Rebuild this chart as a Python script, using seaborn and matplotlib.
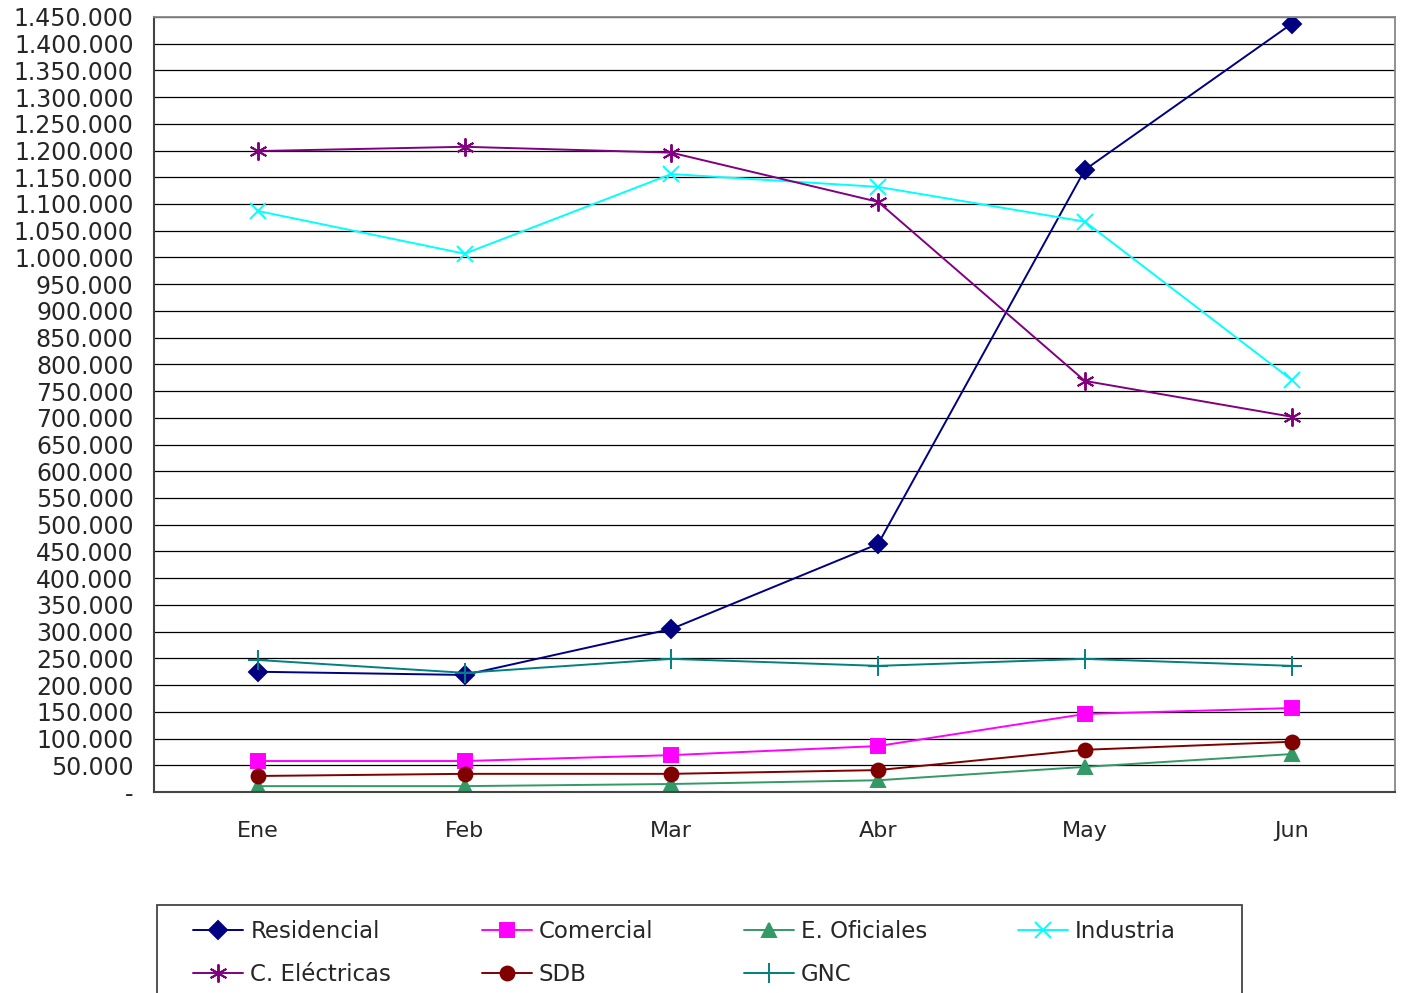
import seaborn as sns
import matplotlib.pyplot as plt
import pandas as pd
from matplotlib.patches import Rectangle
from matplotlib.ticker import FuncFormatter, FixedLocator, MultipleLocator

sns.set_style('white')
plt.rcParams['font.family'] = ['DejaVu Sans']

meses = ['Ene', 'Feb', 'Mar', 'Abr', 'May', 'Jun']

residencial = [225000, 219000, 305000, 464000, 1164000, 1437000]
comercial = [58000, 58000, 69000, 86000, 146000, 157000]
e_oficiales = [11000, 11000, 15000, 22000, 47000, 71000]
industria = [1087000, 1007000, 1156000, 1132000, 1067000, 771000]
c_electricas = [1199000, 1207000, 1196000, 1104000, 769000, 702000]
sdb = [30000, 34000, 34000, 41000, 79000, 94000]
gnc = [247000, 223000, 249000, 236000, 249000, 236000]

series = {
    'Residencial': residencial,
    'Comercial': comercial,
    'E. Oficiales': e_oficiales,
    'Industria': industria,
    'C. Eléctricas': c_electricas,
    'SDB': sdb,
    'GNC': gnc,
}
colores = {
    'Residencial': '#000080',
    'Comercial': '#FF00FF',
    'E. Oficiales': '#339966',
    'Industria': '#00FFFF',
    'C. Eléctricas': '#800080',
    'SDB': '#800000',
    'GNC': '#008080',
}
marcadores = {
    'Residencial': 'D',
    'Comercial': 's',
    'E. Oficiales': '^',
    'Industria': 'x',
    'C. Eléctricas': (6, 2, 0),
    'SDB': 'o',
    'GNC': '+',
}
tamanos = {'Residencial': 9, 'Comercial': 10, 'E. Oficiales': 10, 'Industria': 12,
           'C. Eléctricas': 13, 'SDB': 10, 'GNC': 14}

fig = plt.figure(figsize=(14.04, 9.93), dpi=100)
ax = fig.add_axes([0.110, 0.2024, 0.8836, 0.7806])

handles = {}
for nombre, vals in series.items():
    d = pd.DataFrame({'mes': meses, 'valor': vals})
    sns.lineplot(data=d, x='mes', y='valor', color=colores[nombre], sort=False,
                 marker=marcadores[nombre], markersize=tamanos[nombre],
                 markeredgecolor=colores[nombre], markeredgewidth=1.4,
                 linewidth=1.4, label=nombre, ax=ax, legend=False)
    handles[nombre] = ax.lines[-1]

ax.set_xlim(-0.5, 5.5)
ax.set_ylim(0, 1450000)
ax.yaxis.set_major_locator(MultipleLocator(50000))
ax.yaxis.set_major_formatter(FuncFormatter(
    lambda v, p: '-' if v == 0 else f'{int(v):,}'.replace(',', '.')))
ax.grid(axis='y', color='black', linewidth=0.9)
ax.set_axisbelow(True)

ax.xaxis.set_minor_locator(FixedLocator([i - 0.5 for i in range(7)]))
ax.tick_params(axis='x', which='major', length=0, pad=21, labelsize=16)
ax.tick_params(axis='x', which='minor', length=5, direction='out', color='#333333')
ax.tick_params(axis='y', which='major', length=5, direction='out', labelsize=17,
               pad=10, color='#333333')
ax.set_xlabel('')
ax.set_ylabel('')

for s in ['left', 'bottom']:
    ax.spines[s].set_color('#444444')
    ax.spines[s].set_linewidth(1.5)
ax.spines['right'].set_color('#888888')
ax.spines['top'].set_color('#888888')
ax.spines['right'].set_linewidth(1.3)
ax.spines['top'].set_linewidth(1.3)

# caja de la leyenda (se corta en el borde inferior)
fig.patches.append(Rectangle((157 / 1404, -0.02), (1242 - 157) / 1404, 0.02 + 88 / 993,
                             transform=fig.transFigure, fill=False,
                             edgecolor='#444444', linewidth=1.3))

orden = ['Residencial', 'C. Eléctricas', 'Comercial', 'SDB', 'E. Oficiales', 'GNC', 'Industria']
leg = fig.legend([handles[k] for k in orden], orden, loc='upper left',
                 bbox_to_anchor=(193 / 1404, 1 - 930 / 993, (1176 - 193) / 1404, 0.01),
                 mode='expand', ncol=4, fontsize=16.5, frameon=False,
                 handlelength=2.2, handletextpad=0.3, borderpad=0, borderaxespad=0,
                 labelspacing=0.88)

fig.savefig('out.png', dpi=100)
